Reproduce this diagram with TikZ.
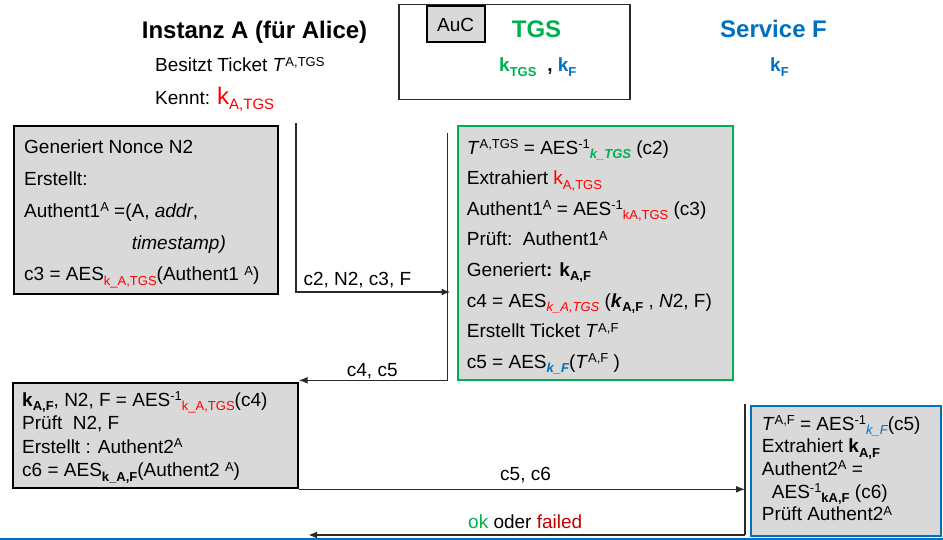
\documentclass[tikz,border=0pt]{standalone}
\usepackage{fontspec}
\setmainfont{Liberation Sans}
\usetikzlibrary{arrows.meta}
\definecolor{kred}{HTML}{FF0000}
\definecolor{kgreen}{HTML}{00B050}
\definecolor{kblue}{HTML}{0070C0}
\definecolor{kdred}{HTML}{C00000}
\definecolor{boxgray}{HTML}{D9D9D9}
\definecolor{linegray}{HTML}{2A2A2A}
\newcommand\mysup[1]{\raisebox{5.5pt}{\fontsize{13}{13}\selectfont #1}}
\newcommand\mysub[1]{\raisebox{-4.5pt}{\fontsize{13}{13}\selectfont #1}}
\newcommand\tightlines{\lineskiplimit=-30pt\relax}
\tikzset{
  txt/.style={inner sep=0pt, anchor=base west, align=left},
  box/.style={draw, fill=boxgray, line width=2pt, anchor=north west, inner sep=0pt},
  conn/.style={draw=linegray, line width=1.4pt},
  tip/.style={-{Latex[length=9pt,width=7pt]}},
}
\begin{document}
\begin{tikzpicture}[x=1pt,y=-1pt]
\useasboundingbox (0,0) rectangle (943,540);

% header
\node[txt, font=\fontsize{24}{24}\selectfont\bfseries] (titleA) at (141.7,39) {Instanz A (für Alice)};
\node[txt, font=\fontsize{19}{19}\selectfont] (besitzt) at (155,71.7) {Besitzt Ticket \textit{T}\mysup{A,TGS}};
\node[txt, font=\fontsize{19}{19}\selectfont] (kennt) at (155,104.3) {Kennt: \textcolor{kred}{{\fontsize{24}{24}\selectfont k}\raisebox{-5pt}{\fontsize{15}{15}\selectfont A,TGS}}};

\node[draw=linegray, line width=1.5pt, anchor=north west, minimum width=231, minimum height=95.3, inner sep=0pt] (tgsbox) at (398,3.7) {};
\node[box, minimum width=58, minimum height=36, font=\fontsize{19}{19}\selectfont] (auc) at (425.7,5.5) {AuC};
\node[txt, font=\fontsize{24}{24}\selectfont\bfseries, text=kgreen] (tgs) at (511.7,38) {TGS};
\node[txt, font=\fontsize{19}{19}\selectfont\bfseries] (tgskeys) at (499,71.7) {\textcolor{kgreen}{k\mysub{TGS}}\hspace{11pt},\hspace{5pt}\textcolor{kblue}{k\mysub{F}}};
\node[txt, font=\fontsize{24}{24}\selectfont\bfseries, text=kblue] (svc) at (720,38) {Service F};
\node[txt, font=\fontsize{19}{19}\selectfont\bfseries, text=kblue] (svckey) at (770,71.7) {k\mysub{F}};

% boxes
\node[box, minimum width=263.4, minimum height=167.7] (b1) at (13.3,125) {};
\node[box, draw=kgreen, minimum width=275.3, minimum height=253.5] (g) at (456.7,125) {};
\node[box, minimum width=284.4, minimum height=105] (b2) at (12.3,382.3) {};
\node[box, draw=kblue, minimum width=190, minimum height=130] (bb) at (750,404.5) {};

% texts (anchored at baseline of last line)
\node[txt, font=\fontsize{19}{32}\selectfont\tightlines] (t1) at (24,281) {%
Generiert Nonce N2\\
Erstellt:\\
Authent1\mysup{A} =(A, \textit{addr},\\
\hspace*{107.7pt}\textit{timestamp)}\\
c3 = AES\mysub{\color{kred}k\_A,TGS}(Authent1 \mysup{A})};

\node[txt, font=\fontsize{19}{30.6}\selectfont\tightlines] (tg) at (466.7,368.2) {%
\textit{T}\mysup{A,TGS} = AES\mysup{-1}\mysub{\color{kgreen}\bfseries\itshape k\_TGS} (c2)\\
Extrahiert \textcolor{kred}{k\mysub{A,TGS}}\\
Authent1\mysup{A} = AES\mysup{-1}\mysub{\color{kred}kA,TGS} (c3)\\
Prüft:\ \ Authent1\mysup{A}\\
Generiert\textbf{: k\mysub{A,F}}\\
c4 = AES\mysub{\color{kred}\itshape k\_A,TGS} (\textbf{\textit{k}\mysub{A,F}} , \textit{N}2, F)\\
Erstellt Ticket \textit{T}\mysup{A,F}\\
c5 = AES\mysub{\color{kblue}\bfseries\itshape k\_F}(\textit{T}\mysup{A,F} )};

\node[txt, font=\fontsize{19}{23.5}\selectfont\tightlines] (t2) at (22,476.5) {%
\textbf{k\mysub{A,F}}, N2, F = AES\mysup{-1}\mysub{\color{kred}k\_A,TGS}(c4)\\
Prüft\ \ N2, F\\
Erstellt : Authent2\mysup{A}\\
c6 = AES\mysub{\bfseries k\_A,F}(Authent2 \mysup{A})};

\node[txt, font=\fontsize{19}{22.7}\selectfont\tightlines] (tb) at (761.7,520.8) {%
\textit{T}\mysup{A,F} = AES\mysup{-1}\mysub{\color{kblue}\itshape k\_F}(c5)\\
Extrahiert \textbf{k\mysub{A,F}}\\
Authent2\mysup{A} =\\
\hspace*{10pt}AES\mysup{-1}\mysub{\bfseries kA,F} (c6)\\
Prüft Authent2\mysup{A}};

% connectors
\coordinate (a1top) at (296,123);
\coordinate (a1end) at (450.5,292);
\draw[conn, tip] (a1top) |- (a1end);
\node[txt, font=\fontsize{19}{19}\selectfont] (l1) at (303.3,286) {c2, N2, c3, F};

\coordinate (a2top) at (447.5,133);
\draw[conn, tip] (a2top) |- ([yshift=2pt]b2.north east);
\node[txt, font=\fontsize{19}{19}\selectfont] (l2) at (346.7,376) {c4, c5};

\coordinate (a3top) at (745,404);
\coordinate (a3bot) at (745,535);
\coordinate (okend) at (308,535);
\draw[conn, tip] (b2.south east) -- (b2.south east -| a3top);
\node[txt, font=\fontsize{19}{19}\selectfont] (l3) at (500,480) {c5, c6};
\draw[conn, line width=1.1pt] (a3top) -- (a3bot);
\draw[conn, line width=2.2pt, tip] (a3bot) -- (okend);
\node[txt, font=\fontsize{19}{19}\selectfont] (l4) at (468,528.3) {\textcolor{kgreen}{ok} oder \textcolor{kdred}{failed}};

% bottom rule
\draw[kblue, line width=1.5pt] (0,538.8) -- (943,538.8);
\end{tikzpicture}
\end{document}
